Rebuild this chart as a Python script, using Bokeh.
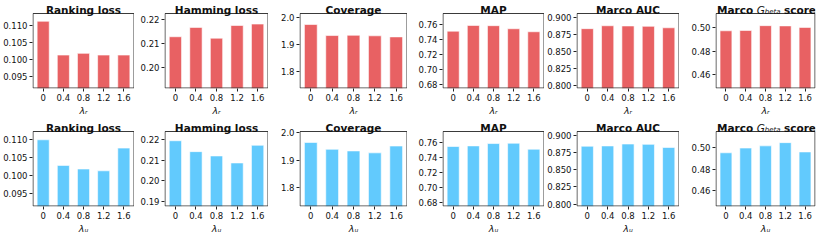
from bokeh.plotting import figure
from bokeh.models import FactorRange, Range1d, FixedTicker, PrintfTickFormatter, Label, BoxAnnotation
from bokeh.layouts import column, row
from bokeh.embed import file_html
from bokeh.resources import INLINE

lambdas = ["0", "0.4", "0.8", "1.2", "1.6"]
titles = ["Ranking loss", "Hamming loss", "Coverage", "MAP", "Marco AUC", "Marco Gbeta score"]

# top row (lambda_r)
rank_r = [0.1113, 0.1013, 0.1018, 0.1013, 0.1013]
ham_r = [0.2127, 0.2166, 0.2121, 0.2174, 0.2180]
cov_r = [1.975, 1.934, 1.935, 1.933, 1.929]
map_r = [0.7515, 0.7591, 0.7588, 0.7547, 0.7507]
auc_r = [0.8839, 0.8882, 0.8879, 0.8874, 0.8852]
gb_r = [0.4974, 0.4977, 0.5018, 0.5016, 0.5003]

# bottom row (lambda_u)
rank_u = [0.1099, 0.1028, 0.1018, 0.1013, 0.1076]
ham_u = [0.2194, 0.2141, 0.2120, 0.2086, 0.2172]
cov_u = [1.965, 1.940, 1.934, 1.927, 1.952]
map_u = [0.7541, 0.7549, 0.7580, 0.7584, 0.7505]
auc_u = [0.8841, 0.8845, 0.8873, 0.8868, 0.8823]
gb_u = [0.4953, 0.4997, 0.5017, 0.5047, 0.4961]

ylim_r = [(0.0914, 0.1136), (0.1911, 0.2224), (1.737, 2.016), (0.6752, 0.775), (0.7955, 0.9063), (0.448, 0.5122)]
ylim_u = [(0.0914, 0.1122), (0.1874, 0.2239), (1.731, 2.005), (0.6748, 0.7739), (0.7964, 0.9055), (0.4456, 0.515)]

ticks_r = [[0.095, 0.100, 0.105, 0.110], [0.20, 0.21, 0.22], [1.8, 1.9, 2.0],
           [0.68, 0.70, 0.72, 0.74, 0.76], [0.800, 0.825, 0.850, 0.875, 0.900], [0.46, 0.48, 0.50]]
ticks_u = [[0.095, 0.100, 0.105, 0.110], [0.19, 0.20, 0.21, 0.22], [1.8, 1.9, 2.0],
           [0.68, 0.70, 0.72, 0.74, 0.76], [0.800, 0.825, 0.850, 0.875, 0.900], [0.46, 0.48, 0.50]]
tick_fmts = ["%.3f", "%.2f", "%.1f", "%.2f", "%.3f", "%.2f"]

RED = "#E86163"
BLUE = "#62CAFD"
EDGE = "#3a3a3a"
TXT = "#111111"

FW = [102, 104, 108, 102, 103, 100]
LB = [30, 30, 31, 35, 31, 36]
RB = [0, 0, 0, 0, 0, 2]
FH = 75
TT = 13
FONT = "DejaVu Sans"


def add_text(p, txt, x, y, style, size, align="left"):
    p.add_layout(Label(x=x, y=y, x_units="screen", y_units="screen",
                       text=txt, text_font=FONT, text_font_style=style,
                       text_font_size=size, text_color=TXT,
                       text_baseline="alphabetic", text_align=align))


def make(i, vals, ylim, ticks, color, xlabel):
    ylo, yhi = ylim
    # the frame is extended upward so that the title can live inside it;
    # the visible axes box is drawn with a BoxAnnotation
    yr = Range1d(ylo, yhi + (yhi - ylo) * TT / FH)
    p = figure(x_range=FactorRange(factors=lambdas, range_padding=0.012),
               y_range=yr,
               frame_width=FW[i], frame_height=FH + TT,
               min_border_left=LB[i], min_border_right=RB[i],
               min_border_top=0, min_border_bottom=24,
               output_backend="svg", toolbar_location=None, tools="")
    p.title = None
    p.vbar(x=lambdas, top=vals, bottom=0, width=0.6,
           fill_color=color, line_color="white", line_alpha=0.6, line_width=1)
    p.xgrid.visible = False
    p.ygrid.visible = False
    p.outline_line_color = None
    p.background_fill_color = "white"
    p.border_fill_color = "white"
    for ax in (p.xaxis[0], p.yaxis[0]):
        ax.axis_line_color = None
        ax.major_tick_in = 0
        ax.major_tick_out = 3
        ax.major_tick_line_color = "#222222"
        ax.minor_tick_line_color = None
        ax.major_label_text_font = FONT
        ax.major_label_text_font_size = "8.5px"
        ax.major_label_text_color = TXT
        ax.major_label_standoff = 2
    p.yaxis[0].ticker = FixedTicker(ticks=ticks)
    p.yaxis[0].formatter = PrintfTickFormatter(format=tick_fmts[i])
    p.xaxis[0].axis_label = xlabel
    p.xaxis[0].axis_label_text_font = FONT
    p.xaxis[0].axis_label_text_font_style = "italic"
    p.xaxis[0].axis_label_text_font_size = "9.5px"
    p.xaxis[0].axis_label_text_color = TXT
    p.xaxis[0].axis_label_standoff = 1
    p.add_layout(BoxAnnotation(left=0.5, right=FW[i] - 0.5,
                               bottom=ylo + (yhi - ylo) * 0.5 / FH, top=yhi,
                               left_units="screen", right_units="screen",
                               bottom_units="data", top_units="data",
                               fill_color=None, fill_alpha=0,
                               line_color=EDGE, line_alpha=1.0, line_width=1))
    if i < 5:
        add_text(p, titles[i], FW[i] / 2, FH + 4, "bold", "10.5px", "center")
    else:
        x0 = FW[i] / 2 - 48.5
        add_text(p, "Marco", x0, FH + 4, "bold", "10.5px")
        add_text(p, "G", x0 + 39.8, FH + 4, "italic", "10.5px")
        add_text(p, "beta", x0 + 47.8, FH + 2, "italic", "7px")
        add_text(p, "score", x0 + 67.0, FH + 4, "bold", "10.5px")
    return p


top_vals = [rank_r, ham_r, cov_r, map_r, auc_r, gb_r]
bot_vals = [rank_u, ham_u, cov_u, map_u, auc_u, gb_u]

top = [make(i, top_vals[i], ylim_r[i], ticks_r[i], RED, "λᵣ") for i in range(6)]
bot = [make(i, bot_vals[i], ylim_u[i], ticks_u[i], BLUE, "λᵤ") for i in range(6)]

layout = column(row(*top), row(*bot))
open("out.html", "w").write(file_html(layout, INLINE))
